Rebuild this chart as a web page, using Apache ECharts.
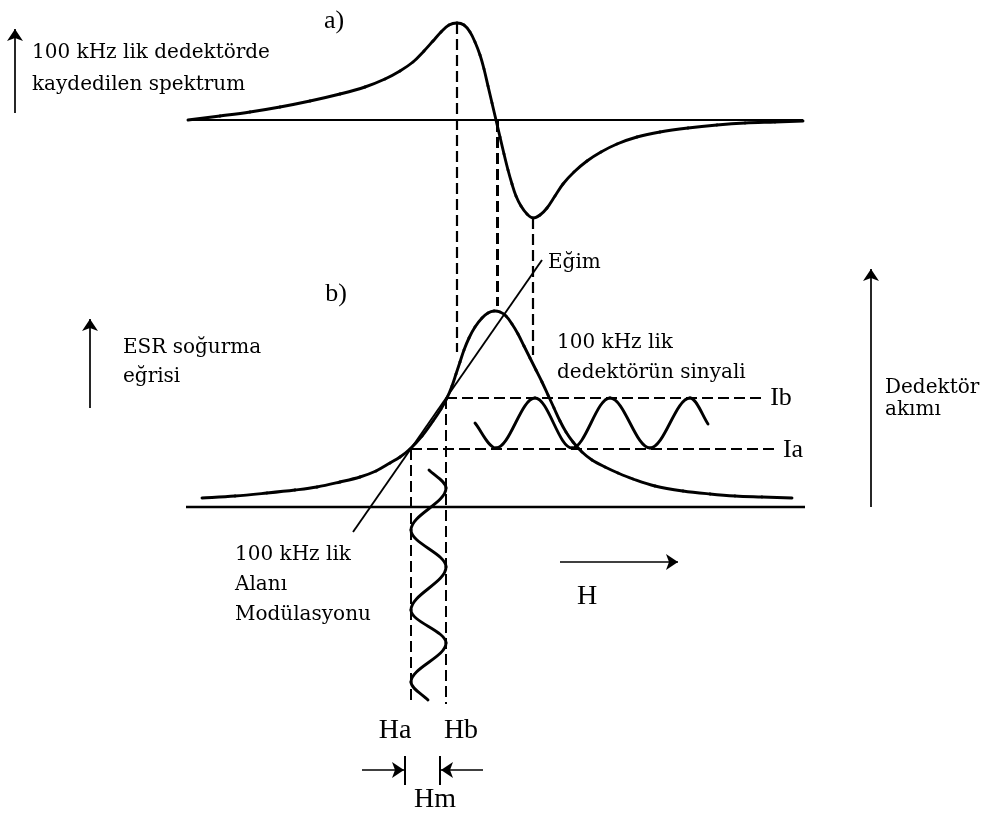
<!DOCTYPE html>
<html>
<head>
<meta charset="utf-8">
<script src="https://cdn.jsdelivr.net/npm/echarts@6/dist/echarts.min.js"></script>
<style>
  html, body { margin: 0; padding: 0; background: #fff; }
  #chart { width: 993px; height: 816px; }
</style>
</head>
<body>
<div id="chart"></div>
<script>
// Diagram plane: x = magnetic field axis, y = signal level (drawn downward in screen units).

// a) first-derivative spectrum recorded by the 100 kHz detector
var spectrumA = [
  [188, 120], [220, 116], [250, 112], [280, 107], [310, 101], [340, 94],
  [365, 87], [385, 79], [400, 71], [413, 62], [424, 51], [433, 41], [441, 32],
  [449, 25], [457, 23], [464, 25], [470, 32], [475, 42], [480, 55], [484, 69],
  [488, 86], [492, 103], [496, 120], [500, 137], [504, 154], [508, 170],
  [512, 184], [516, 196], [521, 206], [527, 214], [533, 218], [540, 215],
  [547, 208], [555, 196], [563, 184], [574, 172], [587, 161], [601, 152],
  [617, 144], [637, 137], [660, 132], [688, 128], [717, 125], [745, 123],
  [775, 122], [803, 121]
];
var baselineA = [[188, 120], [803, 120]];

// b) ESR absorption curve
var absorptionB = [
  [202, 498], [235, 496], [267, 493], [295, 490], [317, 487], [340, 482],
  [360, 477], [376, 471], [390, 463], [400, 457], [410, 449], [422, 436],
  [433, 421], [441, 409], [447, 398], [452, 386], [456, 374], [460, 362],
  [464, 350], [469, 338], [475, 327], [482, 318], [488, 313], [494, 311],
  [500, 312], [506, 316], [512, 324], [518, 334], [524, 346], [530, 358],
  [536, 370], [542, 382], [548, 395], [554, 408], [560, 421], [566, 432],
  [573, 442], [582, 452], [592, 460], [605, 467], [618, 473], [633, 479],
  [655, 486], [683, 491], [710, 494], [735, 496], [762, 497], [792, 498]
];
var baselineB = [[186, 507], [805, 507]];

// slope (tangent) line through the working points
var slopeLine = [[353, 532], [542, 260]];

// 100 kHz detector signal: turning points between Ia and Ib
var detectorSignal = [
  [475, 423], [496, 448], [535, 398], [572, 448], [610, 398],
  [650, 448], [690, 398], [708, 424]
];

// 100 kHz field modulation: turning points between Ha and Hb
var fieldModulation = [
  [429, 470], [446, 488], [411, 530], [446, 567], [411, 610],
  [446, 643], [411, 682], [428, 700]
];

// dashed guide lines
var guideLines = [
  [[457, 23], [457, 352]],
  [[497, 121], [497, 306]],
  [[533, 218], [533, 355]],
  [[446, 398], [762, 398]],
  [[411, 449], [777, 449]],
  [[411, 449], [411, 704]],
  [[446, 398], [446, 704]]
];
var guideWidths = [2.2, 3, 2.2, 2, 2, 2, 2];

// arrows
var arrowLines = [
  [[15, 113], [15, 29]],
  [[90, 408], [90, 319]],
  [[871, 507], [871, 269]],
  [[560, 562], [678, 562]],
  [[362, 770], [404, 770]],
  [[483, 770], [441, 770]]
];
var hmBars = [
  [[405, 756], [405, 785]],
  [[440, 756], [440, 785]]
];

// text labels
var serifLabels = [
  { text: '100 kHz lik dedektörde', at: [32, 53] },
  { text: 'kaydedilen spektrum', at: [32, 85] },
  { text: 'ESR soğurma', at: [123, 348] },
  { text: 'eğrisi', at: [123, 377] },
  { text: 'Eğim', at: [548, 263] },
  { text: '100 kHz lik', at: [557, 343] },
  { text: 'dedektörün sinyali', at: [557, 373] },
  { text: '100 kHz lik', at: [235, 555] },
  { text: 'Alanı', at: [235, 585] },
  { text: 'Modülasyonu', at: [235, 615] },
  { text: 'Dedektör', at: [885, 388] },
  { text: 'akımı', at: [885, 410] }
];
var timesLabels = [
  { text: 'a)', at: [334, 21], size: 26 },
  { text: 'b)', at: [336, 294], size: 26 },
  { text: 'Ib', at: [781, 398], size: 26 },
  { text: 'Ia', at: [793, 450], size: 26 },
  { text: 'H', at: [587, 597], size: 28 },
  { text: 'Ha', at: [395, 731], size: 28 },
  { text: 'Hb', at: [461, 731], size: 28 },
  { text: 'Hm', at: [435, 800], size: 28 }
];

var chart = echarts.init(document.getElementById('chart'), null, { renderer: 'canvas' });

// Control points of the cubic segment i -> i+1.
// mode 'free': tangent along the neighbour chord; 'x' / 'y': points are turning
// points, so the tangent there runs along x (resp. y).
function segmentControls(pts, i, mode) {
  var p0 = pts[i], p1 = pts[i + 1];
  var n = pts.length;
  function tangentOut(k) {
    var p = pts[k];
    if (k === 0) { return [(pts[1][0] - p[0]) * 0.3, (pts[1][1] - p[1]) * 0.3]; }
    var nx = pts[k + 1], pv = pts[k - 1];
    if (mode === 'x') { return [(nx[0] - p[0]) * 0.36, 0]; }
    if (mode === 'y') { return [0, (nx[1] - p[1]) * 0.36]; }
    var d0 = Math.hypot(p[0] - pv[0], p[1] - pv[1]);
    var d1 = Math.hypot(nx[0] - p[0], nx[1] - p[1]);
    var r = 0.36 * d1 / (d0 + d1);
    return [(nx[0] - pv[0]) * r, (nx[1] - pv[1]) * r];
  }
  function tangentIn(k) {
    var p = pts[k];
    if (k === n - 1) { return [(p[0] - pts[k - 1][0]) * 0.3, (p[1] - pts[k - 1][1]) * 0.3]; }
    var nx = pts[k + 1], pv = pts[k - 1];
    if (mode === 'x') { return [(p[0] - pv[0]) * 0.36, 0]; }
    if (mode === 'y') { return [0, (p[1] - pv[1]) * 0.36]; }
    var d0 = Math.hypot(p[0] - pv[0], p[1] - pv[1]);
    var d1 = Math.hypot(nx[0] - p[0], nx[1] - p[1]);
    var r = 0.36 * d0 / (d0 + d1);
    return [(nx[0] - pv[0]) * r, (nx[1] - pv[1]) * r];
  }
  var t0 = tangentOut(i), t1 = tangentIn(i + 1);
  return [p0, [p0[0] + t0[0], p0[1] + t0[1]], [p1[0] - t1[0], p1[1] - t1[1]], p1];
}

function smoothCurve(name, pts, width, mode) {
  return {
    name: name, type: 'custom', coordinateSystem: 'cartesian2d', silent: true, z: 3,
    data: pts, encode: { x: 0, y: 1 },
    renderItem: function (params, api) {
      var i = params.dataIndex;
      if (i >= pts.length - 1) { return { type: 'group', children: [] }; }
      var s = segmentControls(pts, i, mode);
      var a = api.coord(s[0]), b = api.coord(s[1]), c = api.coord(s[2]), d = api.coord(s[3]);
      return {
        type: 'bezierCurve',
        shape: { x1: a[0], y1: a[1], cpx1: b[0], cpy1: b[1], cpx2: c[0], cpy2: c[1], x2: d[0], y2: d[1] },
        style: { stroke: '#000', lineWidth: width, fill: 'none', lineCap: 'round' }
      };
    }
  };
}
function straight(name, data, width) {
  return {
    name: name, type: 'line', data: data, smooth: false, symbol: 'none',
    lineStyle: { color: '#000', width: width }, silent: true, z: 2
  };
}

var graphics = [];
serifLabels.forEach(function (l) {
  graphics.push({ type: 'text', x: l.at[0], y: l.at[1],
    style: { text: l.text, font: '20px "DejaVu Serif"', fill: '#000', verticalAlign: 'middle', align: 'left' } });
});
timesLabels.forEach(function (l) {
  graphics.push({ type: 'text', x: l.at[0], y: l.at[1],
    style: { text: l.text, font: l.size + 'px "Liberation Serif"', fill: '#000', verticalAlign: 'middle', align: 'center' } });
});

chart.setOption({
  animation: false,
  backgroundColor: '#fff',
  grid: { left: 0, right: 0, top: 0, bottom: 0 },
  xAxis: { type: 'value', min: 0, max: 993, show: false },
  yAxis: { type: 'value', min: 0, max: 816, inverse: true, show: false },
  series: [
    straight('baselineA', baselineA, 2),
    straight('baselineB', baselineB, 2.6),
    smoothCurve('spectrumA', spectrumA, 2.9, 'free'),
    smoothCurve('absorptionB', absorptionB, 2.9, 'free'),
    straight('slope', slopeLine, 1.9),
    smoothCurve('detectorSignal', detectorSignal, 2.9, 'x'),
    smoothCurve('fieldModulation', fieldModulation, 2.9, 'y'),
    {
      name: 'guides', type: 'lines', coordinateSystem: 'cartesian2d', silent: true, z: 1,
      data: guideLines.map(function (c, i) {
        return { coords: c, lineStyle: { width: guideWidths[i] } };
      }),
      lineStyle: { color: '#000', type: [11, 5], opacity: 1 }
    },
    {
      name: 'arrows', type: 'lines', coordinateSystem: 'cartesian2d', silent: true, z: 2,
      symbol: ['none', 'arrow'], symbolSize: [7, 12],
      data: arrowLines.map(function (c) { return { coords: c }; }),
      lineStyle: { color: '#000', width: 1.7, opacity: 1 }
    },
    {
      name: 'hmBars', type: 'lines', coordinateSystem: 'cartesian2d', silent: true, z: 2,
      data: hmBars.map(function (c) { return { coords: c }; }),
      lineStyle: { color: '#000', width: 2, opacity: 1 }
    }
  ],
  graphic: graphics
});
</script>
</body>
</html>
